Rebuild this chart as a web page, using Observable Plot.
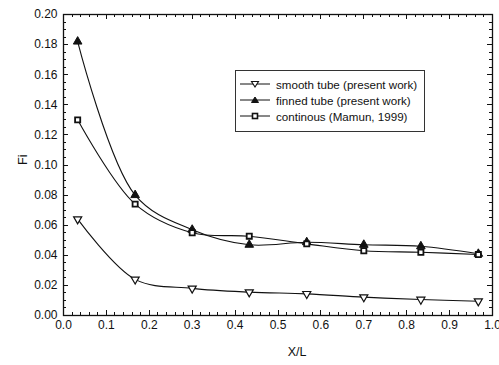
<!DOCTYPE html>
<html><head><meta charset="utf-8">
<script src="https://cdn.jsdelivr.net/npm/d3@7"></script>
<script src="https://cdn.jsdelivr.net/npm/@observablehq/plot@0.6"></script>
<style>
body{margin:0;background:#fff;font-family:"Liberation Sans",Arial,sans-serif;}
#wrap{position:relative;width:499px;height:365px;}
#legend{position:absolute;left:235px;top:70px;width:190px;height:62px;border:1px solid #333;box-sizing:border-box;background:#fff;font-size:11.6px;color:#111;}
.row{position:absolute;left:4px;height:14px;display:flex;align-items:center;white-space:nowrap;}
.row svg{margin-right:6px;}
</style></head>
<body><div id="wrap"><div id="chart"></div><div id="legend"></div></div>
<script>
const xPos = [0.033, 0.167, 0.3, 0.433, 0.567, 0.7, 0.833, 0.967];
const smoothTube = [0.064, 0.024, 0.018, 0.0155, 0.0144, 0.0122, 0.0106, 0.0095];
const finnedTube = [0.182, 0.080, 0.057, 0.047, 0.0487, 0.047, 0.046, 0.041];
const continous = [0.130, 0.074, 0.055, 0.0527, 0.0476, 0.043, 0.042, 0.0405];
const seriesNames = ["smooth tube (present work)", "finned tube (present work)", "continous (Mamun, 1999)"];
const xTicks = d3.range(0, 1.0001, 0.1);
const yTicks = d3.range(0, 0.20001, 0.02);

const rows = [];
[smoothTube, finnedTube, continous].forEach((vals, s) => vals.forEach((v, i) => rows.push({s: seriesNames[s], x: xPos[i], y: v})));
const bySeries = n => rows.filter(d => d.s === n);

const xMinor = d3.range(0, 1.0001, 0.02);
const yMinor = d3.range(0, 0.20001, 0.005);
const fmtX = d => d.toFixed(1);
const fmtY = d => d.toFixed(2);
const ink = "#111";

const chart = Plot.plot({
  width: 499, height: 365,
  marginLeft: 63, marginRight: 7, marginTop: 14, marginBottom: 50,
  style: {fontFamily: '"Liberation Sans", Arial, sans-serif', fontSize: "12px", color: ink, background: "#fff"},
  x: {domain: [0, 1], label: null},
  y: {domain: [0, 0.2], label: null},
  marks: [
    Plot.frame({stroke: ink, strokeWidth: 1.3, fill: "none"}),
    Plot.axisX({ticks: xTicks, tickSize: 0, tickPadding: 5, tickFormat: fmtX, label: null, fill: ink}),
    Plot.axisY({ticks: yTicks, tickSize: 0, tickPadding: 6, tickFormat: fmtY, label: null, fill: ink}),
    ...seriesNames.map(n => Plot.line(bySeries(n), {x: "x", y: "y", curve: "catmull-rom", stroke: ink, strokeWidth: 1.1})),
    Plot.dot(bySeries(seriesNames[0]), {x: "x", y: "y", symbol: "triangle", rotate: 180, r: 3, fill: "#fff", stroke: ink, strokeWidth: 1.2}),
    Plot.dot(bySeries(seriesNames[1]), {x: "x", y: "y", symbol: "triangle", r: 3.2, fill: ink, stroke: ink, strokeWidth: 1}),
    Plot.dot(bySeries(seriesNames[2]), {x: "x", y: "y", symbol: "square", r: 2.9, fill: "#fff", stroke: ink, strokeWidth: 1.8}),
    Plot.text(["X/L"], {frameAnchor: "bottom", dx: 19, dy: 40, fontSize: 12.5, fill: ink}),
    Plot.text(["Fi"], {frameAnchor: "left", dx: -41, rotate: -90, fontSize: 12.5, fill: ink})
  ]
});
document.getElementById("chart").appendChild(chart);

// inward ticks on all four sides, positioned through Plot's own scales
const sx = chart.scale("x"), sy = chart.scale("y");
const [x0, x1] = sx.range, [y0, y1] = sy.range; // y0 bottom, y1 top
const g = d3.select(chart).append("g").attr("stroke", ink).attr("stroke-width", 1).attr("shape-rendering", "crispEdges");
[[xTicks, 5], [xMinor, 3]].forEach(([vals, len]) => vals.forEach(t => {
  const px = Math.round(sx.apply(t)) + 0.5;
  g.append("line").attr("x1", px).attr("x2", px).attr("y1", y0).attr("y2", y0 - len);
  g.append("line").attr("x1", px).attr("x2", px).attr("y1", y1).attr("y2", y1 + len);
}));
[[yTicks, 5], [yMinor, 3]].forEach(([vals, len]) => vals.forEach(t => {
  const py = Math.round(sy.apply(t)) + 0.5;
  g.append("line").attr("y1", py).attr("y2", py).attr("x1", x0).attr("x2", x0 + len);
  g.append("line").attr("y1", py).attr("y2", py).attr("x1", x1).attr("x2", x1 - len);
}));

// legend
const legend = document.getElementById("legend");
const icons = [
  '<path d="M0,7H30" stroke="#111"/><path d="M11.5,4.5L18.5,4.5L15,10Z" fill="#fff" stroke="#111" stroke-width="1.1"/>',
  '<path d="M0,7H30" stroke="#111"/><path d="M11.5,9.5L18.5,9.5L15,4Z" fill="#111" stroke="#111"/>',
  '<path d="M0,7H30" stroke="#111"/><rect x="12.5" y="4.5" width="5" height="5" fill="#fff" stroke="#111" stroke-width="1.6"/>'
];
seriesNames.forEach((n, i) => {
  const r = document.createElement("div");
  r.className = "row";
  r.style.top = (6 + i * 16) + "px";
  r.innerHTML = '<svg width="30" height="14">' + icons[i] + '</svg><span>' + n + '</span>';
  legend.appendChild(r);
});
</script></body></html>
